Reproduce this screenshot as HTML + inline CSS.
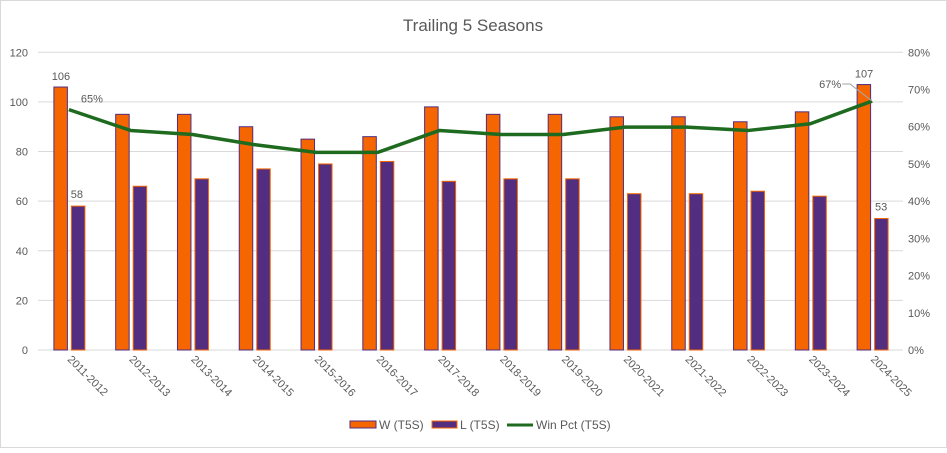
<!DOCTYPE html>
<html><head><meta charset="utf-8"><style>
body{margin:0;background:#fff;font-family:"Liberation Sans",sans-serif}
svg text{font-family:"Liberation Sans",sans-serif;fill:#595959}
</style></head><body>
<svg id="c" width="947" height="448" xmlns="http://www.w3.org/2000/svg">
<rect x="0.5" y="0.5" width="946" height="447" fill="#fff" stroke="#d9d9d9"/>
<text x="473" y="31" text-anchor="middle" font-size="17">Trailing 5 Seasons</text>
<g id="grid"></g><g id="bars"></g><g id="line"></g><g id="labels"></g>
<g>
<rect x="350" y="421" width="26" height="7" fill="#f56600" stroke="#522d80"/>
<text x="379" y="429" font-size="12">W (T5S)</text>
<rect x="432" y="421" width="25" height="7" fill="#522d80" stroke="#f56600"/>
<text x="460" y="429" font-size="12">L (T5S)</text>
<line x1="507" y1="425" x2="533" y2="425" stroke="#1e6b20" stroke-width="3"/>
<text x="536" y="429" font-size="12">Win Pct (T5S)</text>
</g>
</svg>
<script>
const categories=["2011-2012","2012-2013","2013-2014","2014-2015","2015-2016","2016-2017","2017-2018","2018-2019","2019-2020","2020-2021","2021-2022","2022-2023","2023-2024","2024-2025"];
const wins=[106,95,95,90,85,86,98,95,95,94,94,92,96,107];
const losses=[58,66,69,73,75,76,68,69,69,63,63,64,62,53];
const winPct=[0.646,0.590,0.579,0.552,0.531,0.531,0.590,0.579,0.579,0.599,0.599,0.590,0.608,0.669];
const leftTicks=[0,20,40,60,80,100,120];
const rightTicks=["0%","10%","20%","30%","40%","50%","60%","70%","80%"];
const NS="http://www.w3.org/2000/svg";
const X0=38,X1=903,Y0=350,Y1=52.3;
const bw=(X1-X0)/categories.length;
function yL(v){return Y0-(v/120)*(Y0-Y1);}
function yR(p){return Y0-(p/0.8)*(Y0-Y1);}
function xc(i){return X0+bw*(i+0.5);}
function mk(tag,attrs,parent,txt){const e=document.createElementNS(NS,tag);for(const k in attrs)e.setAttribute(k,attrs[k]);if(txt!==undefined)e.textContent=txt;document.getElementById(parent).appendChild(e);return e;}
leftTicks.forEach(t=>{
 const l=mk('line',{x1:X0,x2:X1,y1:yL(t),y2:yL(t),stroke:'#d9d9d9','stroke-width':1},'grid');
 
 
 const tx=mk('text',{x:28,y:yL(t)+4,'text-anchor':'end','font-size':11},'grid',t);
 
 
});
rightTicks.forEach((t,i)=>{
 const tx=mk('text',{x:908,y:yR(i*0.1)+4,'font-size':11},'grid',t);
 
 
});
categories.forEach((c,i)=>{
 const cx=xc(i);
 const w=mk('rect',{x:cx-15,y:yL(wins[i]),width:13.5,height:Y0-yL(wins[i]),fill:'#f56600',stroke:'#522d80','stroke-width':1},'bars');
 
 
 const l=mk('rect',{x:cx+2.5,y:yL(losses[i]),width:13.5,height:Y0-yL(losses[i]),fill:'#522d80',stroke:'#f56600','stroke-width':1},'bars');
 
 
 const t=mk('text',{x:0,y:0,'font-size':11,transform:`translate(${cx-2},${360}) rotate(45)`},'labels',c);
 
 
});
const pts=winPct.map((p,i)=>[xc(i),yR(p)]);
const pl=mk('polyline',{points:pts.map(p=>p.join(',')).join(' '),fill:'none',stroke:'#1e6b20','stroke-width':3.5,'stroke-linejoin':'round'},'line');


const n=categories.length-1;
const labs=[[xc(0)-8,yL(wins[0])-7,String(wins[0])],[xc(0)+8,yL(losses[0])-8,String(losses[0])],[xc(n)-8,yL(wins[n])-7,String(wins[n])],[xc(n)+9,yL(losses[n])-8,String(losses[n])]];
labs.forEach(a=>{
 const t=mk('text',{x:a[0],y:a[1],'text-anchor':'middle','font-size':11},'labels',a[2]);
 
 
});
const p0=mk('text',{x:xc(0)+12,y:yR(winPct[0])-7,'font-size':11},'labels',Math.round(winPct[0]*100)+'%');


const pn=mk('text',{x:xc(n)-53,y:yR(winPct[n])-13,'font-size':11},'labels',Math.round(winPct[n]*100)+'%');


const ld=mk('polyline',{points:`${xc(n)-30},${yR(winPct[n])-17} ${xc(n)-22},${yR(winPct[n])-17} ${xc(n)},${yR(winPct[n])}`,fill:'none',stroke:'#a6a6a6','stroke-width':1},'labels');


</script>
</body></html>
